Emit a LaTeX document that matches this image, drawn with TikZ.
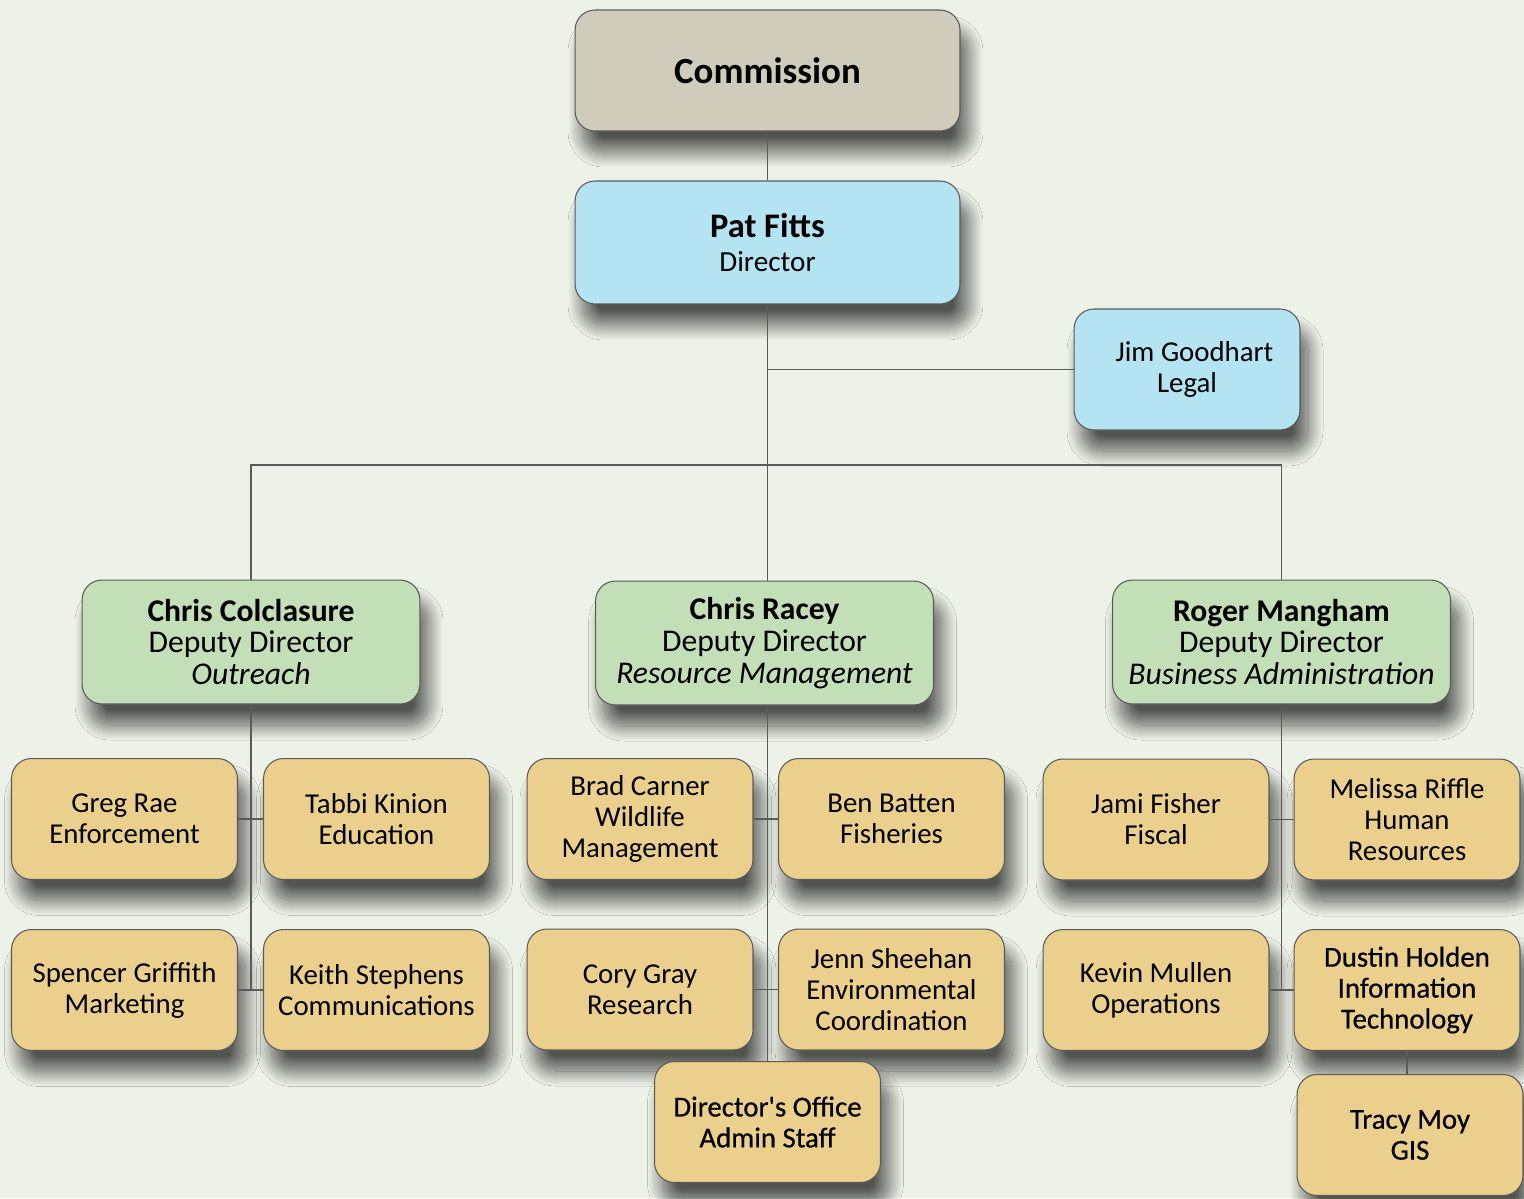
\documentclass[tikz,border=0pt]{standalone}
\usepackage{fontspec}
\setmainfont{Carlito}
\newfontfamily\heavyfont{Carlito}[FakeBold=0.6]
\usetikzlibrary{shadows.blur}
\definecolor{bgcol}{HTML}{EDF2E8}
\definecolor{commfill}{HTML}{CFCCBB}
\definecolor{dirfill}{HTML}{B4E3F1}
\definecolor{depfill}{HTML}{C3DFB8}
\definecolor{unitfill}{HTML}{EBCF8C}
\definecolor{linecol}{HTML}{5A5A5A}
\tikzset{
  box/.style={draw=linecol, line width=0.6pt, rounded corners=0.4cm, align=center, inner sep=0pt,
    blur shadow={shadow xshift=0.16cm, shadow yshift=-0.42cm, shadow blur radius=0.3cm, shadow blur steps=30, shadow opacity=65}},
  unit/.style={box, fill=unitfill, minimum width=4.52cm, minimum height=2.42cm, font=\fontsize{16.4}{17.6}\selectfont},
  deputy/.style={box, fill=depfill, minimum width=6.76cm, minimum height=2.48cm, font=\fontsize{18}{18.2}\selectfont},
  link/.style={draw=linecol, line width=0.6pt},
}
\begin{document}
\begin{tikzpicture}[x=0.02cm, y=-0.02cm]
	\fill[bgcol] (0,0) rectangle (1524,1198);
	\useasboundingbox (0,0) rectangle (1524,1198);
	% top
	\node[box, fill=commfill, minimum width=7.7cm, minimum height=2.42cm, font=\fontsize{21}{21}\selectfont\bfseries] (comm) at (767.5,70.5){Commission};
	\node[box, fill=dirfill, minimum width=7.7cm, minimum height=2.46cm, font=\fontsize{16.6}{19.5}\selectfont] (pat) at (767.5,242.5){{\fontsize{19.6}{19.5}\selectfont\bfseries Pat Fitts}\\Director};
	\node[box, fill=dirfill, minimum width=4.52cm, minimum height=2.42cm, font=\fontsize{16.4}{17.6}\selectfont] (jim) at (1187,369.5){\hspace{0.3cm}Jim Goodhart\\Legal};
	% deputies
	\node[deputy] (colc) at (251,642){\textbf{Chris Colclasure}\\Deputy Director\\\textit{Outreach}};
	\node[deputy] (racey) at (764.5,643){\textbf{Chris Racey}\\Deputy Director\\\textit{Resource Management}};
	\node[deputy] (mang) at (1281.5,642){\textbf{Roger Mangham}\\Deputy Director\\\textit{Business Administration}};
	% outreach
	\node[unit] (greg) at (124.5,819){Greg Rae\\Enforcement};
	\node[unit] (tabbi) at (376.5,819){Tabbi Kinion\\Education};
	\node[unit] (spencer) at (124.5,990){Spencer Griffith\\Marketing};
	\node[unit] (keith) at (376.5,990){Keith Stephens\\Communications};
	% resource management
	\node[unit] (brad) at (640,819){Brad Carner\\Wildlife\\Management};
	\node[unit] (ben) at (891.5,819){Ben Batten\\Fisheries};
	\node[unit] (cory) at (640,989.5){Cory Gray\\Research};
	\node[unit] (jenn) at (891.5,989.5){Jenn Sheehan\\Environmental\\Coordination};
	\node[unit, font=\fontsize{16.4}{17.6}\heavyfont] (office) at (767.5,1122){Director\textquotesingle s Office\\Admin Staff};
	% business administration
	\node[unit] (jami) at (1156,819.5){Jami Fisher\\Fiscal};
	\node[unit] (melissa) at (1407,819.5){Melissa Riffle\\Human\\Resources};
	\node[unit] (kevin) at (1156,990){Kevin Mullen\\Operations};
	\node[unit, font=\fontsize{16.4}{17.6}\heavyfont] (dustin) at (1407,990){Dustin Holden\\Information\\Technology};
	\node[unit, font=\fontsize{16.4}{17.6}\heavyfont] (tracy) at (1410,1135){Tracy Moy\\GIS};
	% lines
	\coordinate (bus) at (767,465);
	\draw[link] (comm) -- (pat);
	\draw[link] (pat) -- (pat.south |- racey.north);
	\draw[link] (pat.south |- jim.west) -- (jim);
	\draw[link] (colc.north) |- (bus) -| (mang.north);
	\draw[link] (colc) -- (colc.south |- spencer.east);
	\draw[link] (greg) -- (tabbi);
	\draw[link] (spencer) -- (keith);
	\draw[link] (pat.south |- racey.south) -- (pat.south |- office.north);
	\draw[link] (brad) -- (ben);
	\draw[link] (cory) -- (jenn);
	\draw[link] (mang) -- (mang.south |- kevin.east);
	\draw[link] (jami) -- (melissa);
	\draw[link] (kevin) -- (dustin);
	\draw[link] (dustin.south) -- (dustin.south |- tracy.north);
\end{tikzpicture}
\end{document}
